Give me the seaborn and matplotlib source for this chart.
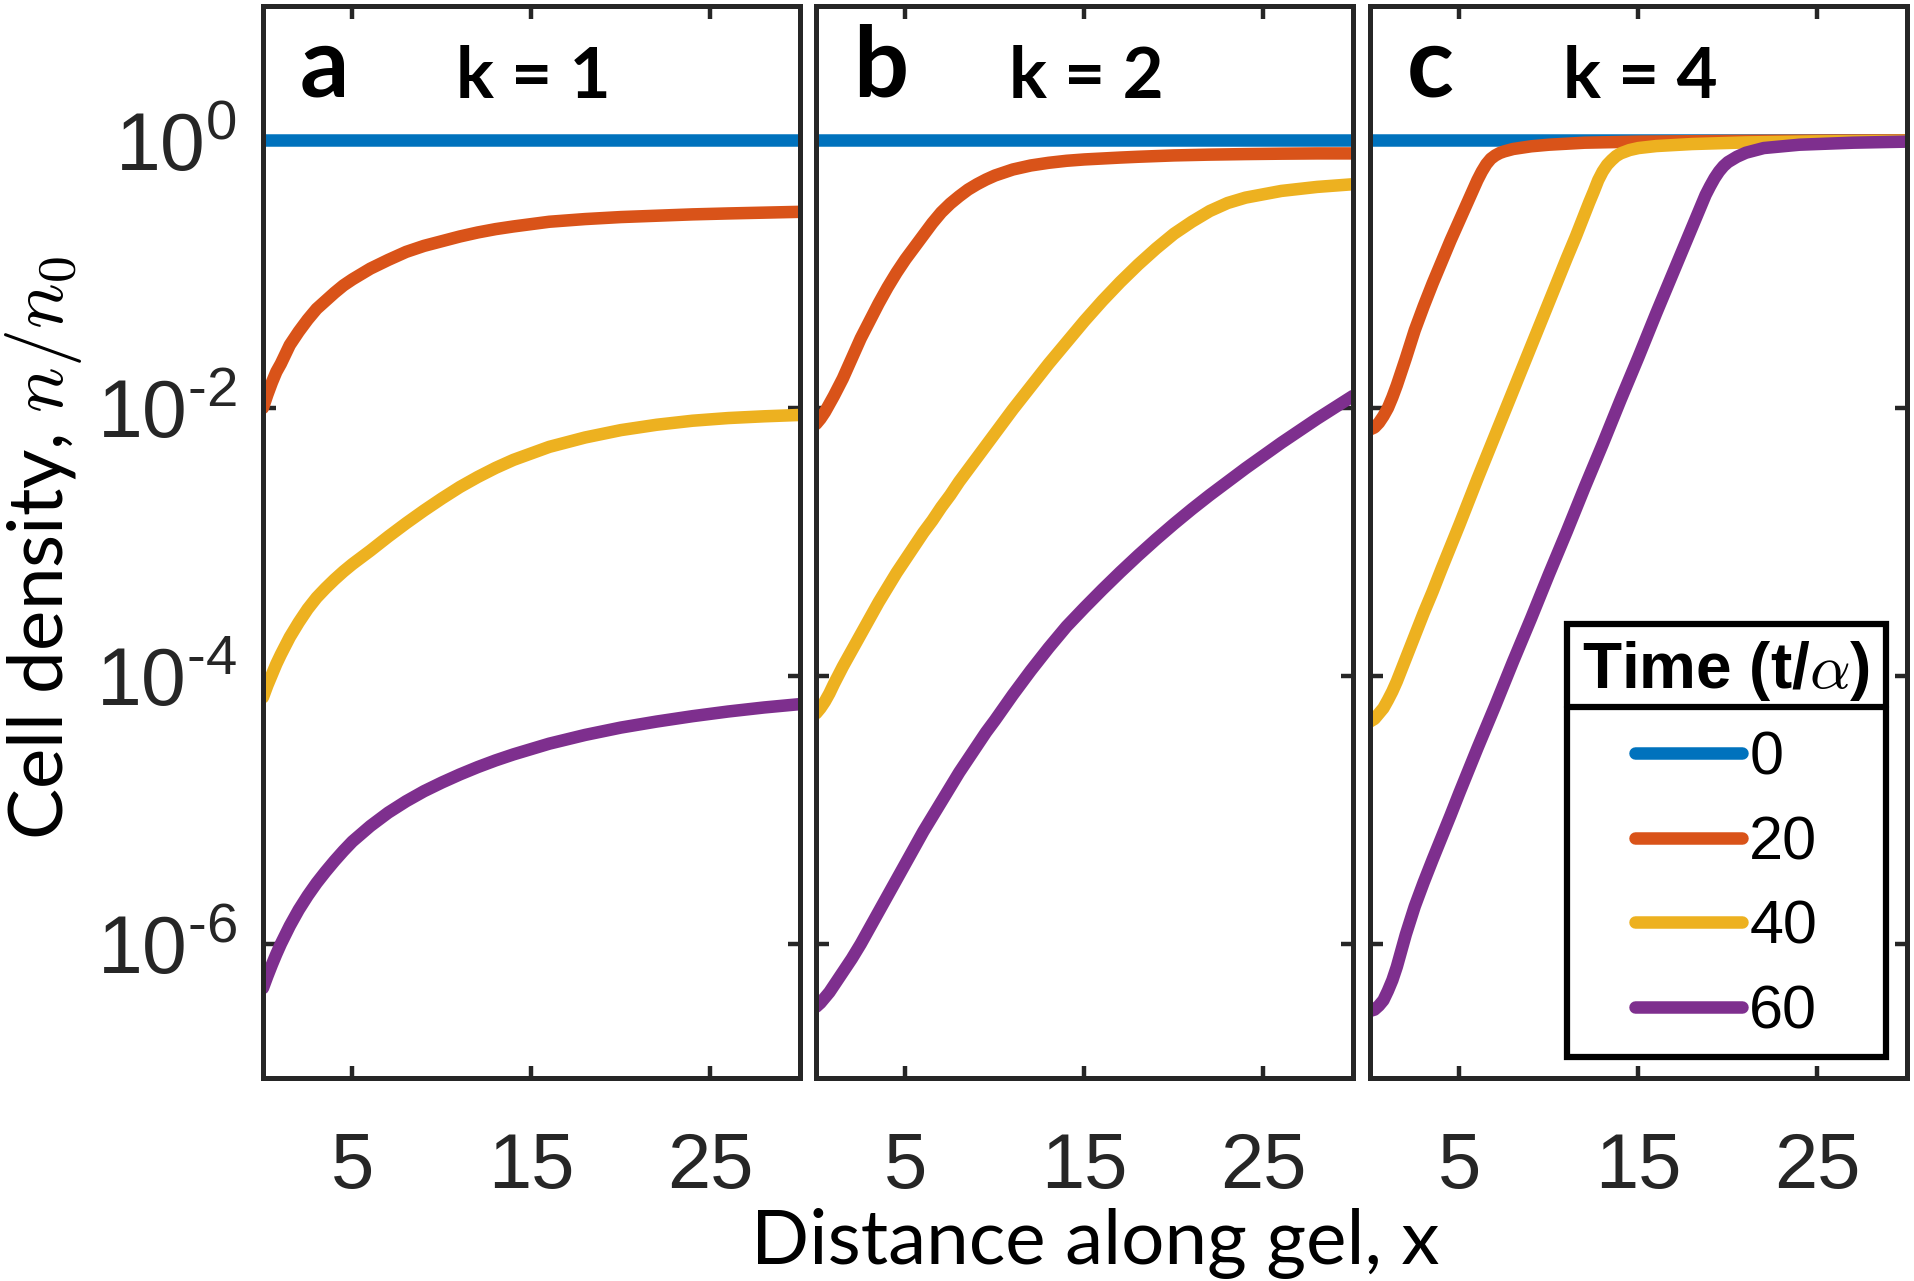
import numpy as np
import pandas as pd
import matplotlib
matplotlib.use("Agg")
import matplotlib.pyplot as plt
import seaborn as sns
from matplotlib.ticker import NullLocator
from matplotlib.lines import Line2D

# --- values: log10(n/n0) against x ---
times = ['0', '20', '40', '60']
colors = ['#0072BD', '#D95319', '#EDB120', '#7E2F8E']
k_values = [1, 2, 4]
panel_letters = ['a', 'b', 'c']

# t = 0 is flat at n/n0 = 1 in every panel
t0_x = [0, 30]
t0_log = [0, 0]

# panel a, k = 1
a_x = [0, 0.25, 0.5, 0.75, 1, 1.5, 2, 2.5, 3, 3.5, 4, 4.5, 5, 6, 7, 8, 9, 10, 11, 12, 13, 14,
       16, 18, 20, 22, 24, 26, 28, 30]
a_t20 = [-2.00, -1.90, -1.81, -1.73, -1.67, -1.53, -1.43, -1.34, -1.26, -1.20, -1.14, -1.085,
         -1.04, -0.96, -0.895, -0.835, -0.79, -0.755, -0.72, -0.69, -0.665, -0.645,
         -0.61, -0.59, -0.575, -0.565, -0.555, -0.548, -0.542, -0.536]
a_t40 = [-4.16, -4.07, -3.99, -3.91, -3.84, -3.71, -3.60, -3.50, -3.415, -3.345, -3.28, -3.22,
         -3.165, -3.065, -2.96, -2.86, -2.765, -2.675, -2.59, -2.515, -2.447, -2.387,
         -2.29, -2.22, -2.165, -2.125, -2.095, -2.075, -2.062, -2.052]
a_t60 = [-6.33, -6.24, -6.155, -6.075, -6.00, -5.865, -5.745, -5.64, -5.545, -5.46, -5.38,
         -5.305, -5.235, -5.12, -5.02, -4.935, -4.86, -4.795, -4.735, -4.68, -4.63, -4.585,
         -4.505, -4.44, -4.385, -4.34, -4.30, -4.265, -4.235, -4.21]

# panel b, k = 2
b_x = [0, 0.25, 0.5, 0.75, 1, 1.5, 2, 2.5, 3, 3.5, 4, 4.5, 5, 5.5, 6, 6.5, 7, 7.5, 8, 8.5, 9,
       9.5, 10, 11, 12, 13, 14, 15, 16, 17, 18, 19, 20, 21, 22, 23, 24, 26, 28, 30]
b_t20 = [-2.12, -2.08, -2.03, -1.97, -1.91, -1.78, -1.63, -1.48, -1.35, -1.22, -1.10, -0.99,
         -0.89, -0.80, -0.71, -0.62, -0.54, -0.475, -0.42, -0.37, -0.33, -0.295, -0.265,
         -0.22, -0.19, -0.17, -0.155, -0.145, -0.138, -0.131, -0.125, -0.12, -0.115, -0.112,
         -0.109, -0.107, -0.105, -0.102, -0.10, -0.10]
b_t40 = [-4.28, -4.24, -4.19, -4.13, -4.06, -3.93, -3.81, -3.69, -3.57, -3.45, -3.34, -3.23,
         -3.13, -3.03, -2.93, -2.84, -2.74, -2.65, -2.55, -2.46, -2.37, -2.28, -2.19,
         -2.01, -1.84, -1.67, -1.51, -1.35, -1.20, -1.06, -0.93, -0.81, -0.70, -0.61,
         -0.53, -0.47, -0.43, -0.38, -0.35, -0.33]
b_t60 = [-6.47, -6.44, -6.40, -6.36, -6.31, -6.21, -6.11, -6.00, -5.88, -5.76, -5.64, -5.52,
         -5.40, -5.28, -5.16, -5.05, -4.94, -4.83, -4.72, -4.62, -4.52, -4.42, -4.33,
         -4.14, -3.96, -3.79, -3.63, -3.49, -3.355, -3.225, -3.10, -2.98, -2.865, -2.755,
         -2.65, -2.55, -2.45, -2.26, -2.08, -1.91]

# panel c, k = 4 (fronts with sharp knees, so each curve has its own x points)
c_x20 = [0, 0.25, 0.5, 0.75, 1, 1.25, 1.5, 2, 2.5, 3, 3.5, 4, 4.5, 5, 5.5, 5.75, 6, 6.25, 6.5,
         6.75, 7, 7.25, 7.5, 8, 9, 10, 12, 15, 20, 25, 30]
c_t20 = [-2.16, -2.145, -2.11, -2.06, -2.00, -1.92, -1.83, -1.63, -1.42, -1.24, -1.07, -0.91,
         -0.75, -0.60, -0.45, -0.375, -0.30, -0.235, -0.18, -0.14, -0.115, -0.097, -0.085,
         -0.067, -0.047, -0.035, -0.02, -0.012, -0.007, -0.004, -0.003]
c_x40 = [0, 0.25, 0.5, 0.75, 1, 1.25, 1.5, 2, 2.5, 3, 3.5, 4, 5, 6, 7, 8, 9, 10, 11, 11.5, 12,
         12.25, 12.5, 12.75, 13, 13.25, 13.5, 13.75, 14, 14.5, 15, 16, 18, 21, 25, 30]
c_t40 = [-4.34, -4.32, -4.28, -4.24, -4.18, -4.115, -4.04, -3.87, -3.70, -3.53, -3.37, -3.20,
         -2.87, -2.53, -2.20, -1.87, -1.54, -1.21, -0.88, -0.72, -0.55, -0.465, -0.385,
         -0.30, -0.235, -0.185, -0.15, -0.12, -0.10, -0.075, -0.06, -0.045, -0.03, -0.018,
         -0.01, -0.006]
c_x60 = [0, 0.25, 0.5, 0.75, 1, 1.25, 1.5, 2, 2.5, 3, 3.5, 4, 4.5, 5, 6, 7, 8, 9, 10, 11, 12,
         13, 14, 15, 16, 17, 18, 18.25, 18.5, 18.75, 19, 19.25, 19.5, 19.75, 20, 20.5, 21, 22,
         24, 27, 30]
c_t60 = [-6.50, -6.49, -6.46, -6.42, -6.35, -6.27, -6.17, -5.93, -5.72, -5.54, -5.37, -5.205,
         -5.04, -4.87, -4.54, -4.22, -3.89, -3.57, -3.24, -2.92, -2.59, -2.27, -1.94, -1.62,
         -1.29, -0.97, -0.65, -0.57, -0.49, -0.41, -0.345, -0.285, -0.235, -0.195, -0.165,
         -0.125, -0.095, -0.06, -0.035, -0.02, -0.012]

ytick_vals = [1e-6, 1e-4, 1e-2, 1e0]
ytick_labels = [r'$10^{\text{-}6}$', r'$10^{\text{-}4}$', r'$10^{\text{-}2}$', r'$10^{0}$']
xtick_vals = [5, 15, 25]

# --- build one long table ---
curves = [
    ('a', '0', t0_x, t0_log), ('a', '20', a_x, a_t20), ('a', '40', a_x, a_t40), ('a', '60', a_x, a_t60),
    ('b', '0', t0_x, t0_log), ('b', '20', b_x, b_t20), ('b', '40', b_x, b_t40), ('b', '60', b_x, b_t60),
    ('c', '0', t0_x, t0_log), ('c', '20', c_x20, c_t20), ('c', '40', c_x40, c_t40), ('c', '60', c_x60, c_t60),
]
frames = []
for panel, t, xs, logs in curves:
    frames.append(pd.DataFrame({'panel': panel, 'time': t, 'x': xs,
                                'n': 10.0 ** np.array(logs)}))
df = pd.concat(frames, ignore_index=True)

# --- style ---
sns.set_theme(style='ticks')
plt.rcParams['font.family'] = ['Liberation Sans', 'DejaVu Sans']
plt.rcParams['mathtext.fontset'] = 'custom'
plt.rcParams['mathtext.rm'] = 'Liberation Sans'
plt.rcParams['mathtext.it'] = 'Liberation Sans:italic'
plt.rcParams['mathtext.bf'] = 'Liberation Sans:bold'

edge = '#262626'
palette = dict(zip(times, colors))

fig = plt.figure(figsize=(19.15, 12.81), dpi=100)
lefts = [0.1373, 0.4261, 0.7154]
axes = []
for i, letter in enumerate(panel_letters):
    ax = fig.add_axes([lefts[i], 0.1585, 0.2804, 0.8368],
                      sharey=axes[0] if axes else None)
    axes.append(ax)
    sub = df[df['panel'] == letter]
    sns.lineplot(data=sub, x='x', y='n', hue='time', hue_order=times, palette=palette,
                 estimator=None, linewidth=9, legend=False, ax=ax)
    ax.set_yscale('log')
    ax.set_ylim(1e-7, 10)
    ax.set_xlim(0, 30)
    ax.set_xticks(xtick_vals)
    ax.set_yticks(ytick_vals, labels=ytick_labels)
    ax.yaxis.set_minor_locator(NullLocator())
    ax.xaxis.set_minor_locator(NullLocator())
    ax.set_xlabel('')
    ax.set_ylabel('')
    for s in ax.spines.values():
        s.set_linewidth(3.6)
        s.set_color(edge)
    ax.tick_params(axis='both', which='major', direction='in', length=9, width=3.2,
                   color=edge, labelcolor=edge, top=True, right=True)
    ax.tick_params(axis='x', labelsize=56, pad=38)
    ax.tick_params(axis='y', labelsize=58, pad=19, labelleft=(i == 0))

    ax.text(0.069, 0.916, letter, transform=ax.transAxes, fontsize=70,
            fontweight='bold', family='Lato', color='black', va='baseline')
    ax.text(0.36, 0.914, f'k = {k_values[i]}', transform=ax.transAxes, fontsize=51,
            fontweight='bold', family='Lato', color='black', va='baseline')

# legend in panel c
ax_c = axes[2]
handles = ax_c.get_lines()[:len(times)]
leg = ax_c.legend(handles, times, title=r'Time (t/$\alpha$)', loc='lower right',
                  fontsize=44, title_fontproperties={'weight': 'bold', 'size': 46},
                  frameon=True, fancybox=False, edgecolor='black', framealpha=1,
                  handlelength=1.75, handletextpad=0.12, labelspacing=0.45,
                  borderpad=0.25, borderaxespad=0.35, alignment='center',
                  labelcolor='black')
leg.get_frame().set_linewidth(4.5)
leg.get_title().set_math_fontfamily('cm')
leg.get_title().set_color('black')

# line between legend title and entries
fig.canvas.draw()
r = fig.canvas.get_renderer()
tb = leg.get_title().get_window_extent(r)
fb = leg.get_frame().get_window_extent(r)
ysep = tb.y0 - 4
inv = fig.transFigure.inverted()
(x0, y0), (x1, _) = inv.transform([(fb.x0, ysep), (fb.x1, ysep)])
fig.add_artist(Line2D([x0, x1], [y0, y0], transform=fig.transFigure,
                      color='black', linewidth=4.5, zorder=10))

# axis labels
fig.text(0.0225, 0.572, r'Cell density, $n/n_0$', rotation=90, ha='center', va='center',
         fontsize=55, family='Lato', math_fontfamily='cm', color='black')
fig.text(0.572, 0.0133, 'Distance along gel, x', ha='center', va='baseline',
         fontsize=55, family='Lato', color='black')

fig.savefig('out.png', dpi=100)
